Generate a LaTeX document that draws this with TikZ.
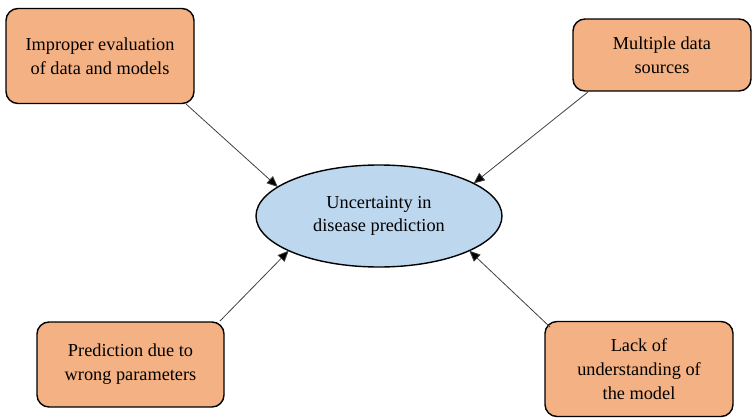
\documentclass[tikz,border=0pt]{standalone}
\usepackage{fontspec}
\setmainfont{Liberation Serif}
\usetikzlibrary{shapes.geometric,arrows.meta}
\definecolor{boxorange}{HTML}{F4B183}
\definecolor{ellblue}{HTML}{BDD7EE}
\definecolor{arrgray}{HTML}{404040}
\begin{document}
\begin{tikzpicture}[x=1pt,y=-1pt,
  causebox/.style={draw=black,line width=1.4pt,fill=boxorange,rounded corners=12pt,
    align=center,inner sep=0pt,font=\fontsize{18.3}{24}\selectfont},
  centerell/.style={ellipse,draw=black,line width=1.4pt,fill=ellblue,align=center,
    inner sep=0pt,outer sep=0pt,minimum width=246pt,minimum height=102pt,
    font=\fontsize{18.3}{23.5}\selectfont},
  arr/.style={draw=arrgray,line width=0.8pt,-{Triangle[length=11pt,width=9.5pt,fill=black]}}]
\useasboundingbox (0,0) rectangle (753,418);
\node[causebox,minimum width=188pt,minimum height=95pt] (b1) at (100,56) {Improper evaluation\\of data and models};
\node[causebox,minimum width=178pt,minimum height=72pt] (b2) at (662,55) {Multiple data\\sources};
\node[causebox,minimum width=187pt,minimum height=85pt] (b3) at (130.5,364.5) {Prediction due to\\wrong parameters};
\node[causebox,minimum width=188pt,minimum height=95pt] (b4) at (639,369) {Lack of\\understanding of\\the model};
\node[centerell] (c) at (379,216) {Uncertainty in\\disease prediction};
\coordinate (s1) at (186,104);
\coordinate (s2) at (588,92);
\coordinate (s3) at (220,321);
\coordinate (s4) at (550,327);
\draw[arr] (s1) -- (c.164);
\draw[arr] (s2) -- (c.19.7);
\draw[arr] (s3) -- (c.201.6);
\draw[arr] (s4) -- (c.339.2);
\end{tikzpicture}
\end{document}
